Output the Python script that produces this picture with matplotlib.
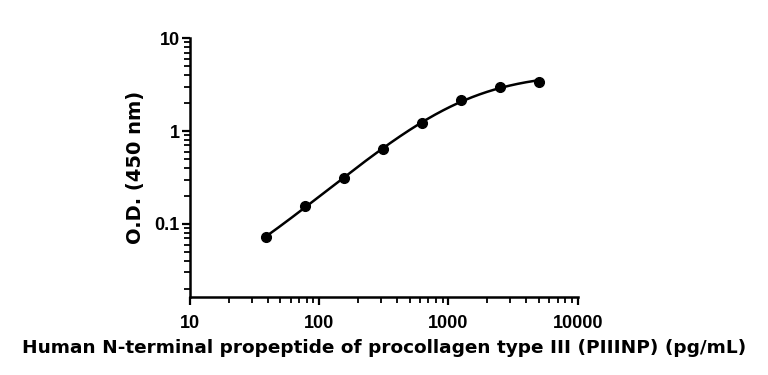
import matplotlib.pyplot as plt
import numpy as np
from matplotlib.ticker import LogLocator, FixedLocator, FixedFormatter, NullFormatter

# standard concentrations (pg/mL) and measured O.D.
conc = [39.06, 78.125, 156.25, 312.5, 625, 1250, 2500, 5000]
od = [0.073, 0.157, 0.316, 0.646, 1.21, 2.14, 3.01, 3.41]

x_ticks = [10, 100, 1000, 10000]
x_labels = ['10', '100', '1000', '10000']
y_ticks = [0.1, 1, 10]
y_labels = ['0.1', '1', '10']

plt.rcParams['font.family'] = ['Liberation Sans', 'DejaVu Sans']


def four_pl(p, x):
    a, b, logc, d = p
    return d + (a - d) / (1 + (x / 10 ** logc) ** b)


def fit_4pl(x, y, p0, n_iter=200):
    # small Levenberg-Marquardt on log(O.D.) residuals
    x, y = np.asarray(x, float), np.asarray(y, float)
    p = np.array(p0, float)
    lam = 1e-2

    def resid(q):
        v = four_pl(q, x)
        if np.any(v <= 0):
            return np.full_like(y, 1e3)
        return np.log(v) - np.log(y)

    r = resid(p)
    for _ in range(n_iter):
        J = np.empty((len(x), len(p)))
        for i in range(len(p)):
            dp = np.zeros_like(p)
            dp[i] = 1e-6 * max(1.0, abs(p[i]))
            J[:, i] = (resid(p + dp) - r) / dp[i]
        A = J.T @ J
        g = J.T @ r
        step = np.linalg.solve(A + lam * np.diag(np.diag(A) + 1e-12), -g)
        r_new = resid(p + step)
        if np.sum(r_new ** 2) < np.sum(r ** 2):
            p, r = p + step, r_new
            lam *= 0.3
        else:
            lam *= 5
    return p


params = fit_4pl(conc, od, [0.01, 1.2, 3.0, 4.0])

fig = plt.figure(figsize=(7.68, 3.75), dpi=100)
ax = fig.add_axes([0.2474, 0.2072, 0.5048, 0.6908])

xs = np.logspace(np.log10(conc[0]), np.log10(conc[-1]), 300)
ax.plot(xs, four_pl(params, xs), color='black', lw=1.8, zorder=2)
ax.plot(conc, od, 'o', color='black', ms=7, zorder=3)

ax.set_xscale('log')
ax.set_yscale('log')
ax.set_xlim(10, 10000)
ax.set_ylim(0.0162, 10)

for s in ['top', 'right']:
    ax.spines[s].set_visible(False)
for s in ['left', 'bottom']:
    ax.spines[s].set_linewidth(1.8)

ax.xaxis.set_major_locator(FixedLocator(x_ticks))
ax.xaxis.set_major_formatter(FixedFormatter(x_labels))
ax.yaxis.set_major_locator(FixedLocator(y_ticks))
ax.yaxis.set_major_formatter(FixedFormatter(y_labels))
ax.xaxis.set_minor_locator(LogLocator(base=10, subs=np.arange(2, 10), numticks=20))
ax.yaxis.set_minor_locator(LogLocator(base=10, subs=np.arange(2, 10), numticks=20))
ax.xaxis.set_minor_formatter(NullFormatter())
ax.yaxis.set_minor_formatter(NullFormatter())

ax.tick_params(which='major', length=6, width=1.6, direction='out')
ax.tick_params(which='minor', length=4, width=1.3, direction='out')
ax.tick_params(axis='x', which='major', pad=7)
ax.tick_params(axis='y', which='major', pad=1.5)
for lbl in ax.get_xticklabels() + ax.get_yticklabels():
    lbl.set_fontsize(13)
    lbl.set_fontweight('bold')

ax.set_xlabel('Human N-terminal propeptide of procollagen type III (PIIINP) (pg/mL)',
              fontsize=13.3, fontweight='bold', labelpad=5,
              family=['DejaVu Sans'])
ax.set_ylabel('O.D. (450 nm)', fontsize=14, fontweight='bold', labelpad=7,
              family=['DejaVu Sans'])

fig.savefig('out.png', dpi=100, facecolor='white')
